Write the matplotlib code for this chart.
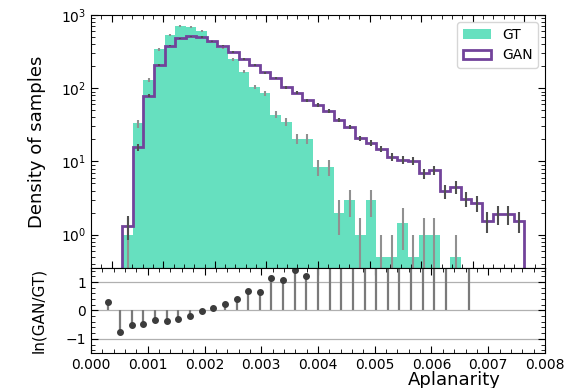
import numpy as np
import matplotlib
matplotlib.use("Agg")
import matplotlib.pyplot as plt
from matplotlib.ticker import AutoMinorLocator, MultipleLocator, FormatStrFormatter

# Binning of the aplanarity variable
bin_edges = np.linspace(0.0, 0.008, 40)

# Normalised densities per bin (ground truth and generated samples)
gt_density = [
    0.0, 0.98, 33.0, 130.0, 340.0, 537.0, 710.0, 685.0, 610.0, 445.0,
    353.0, 250.0, 168.0, 105.0, 85.0, 43.5, 35.0, 20.5, 20.5, 8.3,
    8.3, 1.95, 2.93, 0.98, 2.93, 0.49, 0.49, 1.46, 0.49, 0.98,
    0.98, 0.0, 0.49, 0.0, 0.0, 0.0, 0.0, 0.0, 0.0,
]
gan_density = [
    0.0, 1.32, 15.5, 79.0, 208.0, 383.0, 484.0, 509.0, 500.0, 435.0,
    383.0, 311.0, 249.0, 208.0, 164.0, 137.0, 103.0, 87.0, 69.0, 59.0,
    49.0, 36.8, 29.5, 20.7, 17.8, 14.9, 11.6, 10.5, 10.2, 6.9,
    7.6, 3.9, 4.5, 3.1, 2.7, 1.54, 1.9, 1.9, 1.54,
]

# Sample sizes used for the Poisson uncertainties
n_gt_events = 10000
n_gan_events = 30000

labels = ["GT", "GAN"]
gt_color = "#66e0bf"
gan_color = "#72439a"

edges = np.asarray(bin_edges)
centers = 0.5 * (edges[:-1] + edges[1:])
width = edges[1] - edges[0]
gt = np.asarray(gt_density)
gan = np.asarray(gan_density)

gt_err = np.sqrt(gt / (n_gt_events * width))
gan_err = np.sqrt(gan / (n_gan_events * width))

fig = plt.figure(figsize=(5.88, 3.88), dpi=100)
ax = fig.add_axes([0.1548, 0.3093, 0.772, 0.652])
ax2 = fig.add_axes([0.1548, 0.0902, 0.772, 0.2191])

# Upper panel: histograms on log scale
ax.hist(centers, bins=edges, weights=gt, histtype="stepfilled",
        color=gt_color, label=labels[0], log=True)
m = gt > 0
ax.errorbar(centers[m], gt[m], yerr=gt_err[m], fmt="none",
            ecolor="#909090", elinewidth=1.5)
ax.hist(centers, bins=edges, weights=gan, histtype="step",
        color=gan_color, linewidth=2.0, label=labels[1], log=True)
mg = gan > 0
ax.errorbar(centers[mg], gan[mg], yerr=gan_err[mg], fmt="none",
            ecolor="#505050", elinewidth=1.5)

ax.set_yscale("log")
ax.set_ylim(0.35, 1000)
ax.set_xlim(-0.0004, 0.0084)
ax.set_ylabel("Density of samples", fontsize=13)
ax.xaxis.set_major_locator(MultipleLocator(0.001))
ax.xaxis.set_minor_locator(AutoMinorLocator(5))
ax.tick_params(axis="x", labelbottom=False)
ax.tick_params(which="both", direction="in", top=True, right=True)
ax.tick_params(which="major", length=5)
ax.tick_params(which="minor", length=3)
ax.tick_params(axis="y", labelsize=10)
ax.legend(loc="upper right", fontsize=10)

# Lower panel: log ratio of the two densities
valid = (gt > 0) & (gan > 0)
log_ratio = np.log(gan[valid] / gt[valid])
ax2.grid(axis="y", color="#b0b0b0", linewidth=0.9)
ax2.set_axisbelow(True)
markerline, stemlines, baseline = ax2.stem(
    centers[valid], log_ratio, linefmt="-", markerfmt="o", basefmt=" ")
plt.setp(stemlines, color="#7a7a7a", linewidth=1.6)
plt.setp(markerline, color="#3c3c3c", markersize=4)

ax2.set_xlim(0.0, 0.008)
ax2.set_ylim(-1.5, 1.5)
ax2.set_yticks([-1, 0, 1])
ax2.yaxis.set_minor_locator(AutoMinorLocator(5))
ax2.xaxis.set_major_locator(MultipleLocator(0.001))
ax2.xaxis.set_minor_locator(AutoMinorLocator(5))
ax2.xaxis.set_major_formatter(FormatStrFormatter("%.3f"))
ax2.tick_params(which="both", direction="in", top=True, right=True)
ax2.tick_params(which="major", length=5)
ax2.tick_params(which="minor", length=3)
ax2.tick_params(labelsize=10)
ax2.set_ylabel("ln(GAN/GT)", fontsize=11)
ax2.set_xlabel("Aplanarity", fontsize=13, x=0.8, labelpad=-0.5)

ax.yaxis.set_label_coords(-0.10, 0.5)
ax2.yaxis.set_label_coords(-0.10, 0.5)

fig.savefig("out.png", dpi=100)
